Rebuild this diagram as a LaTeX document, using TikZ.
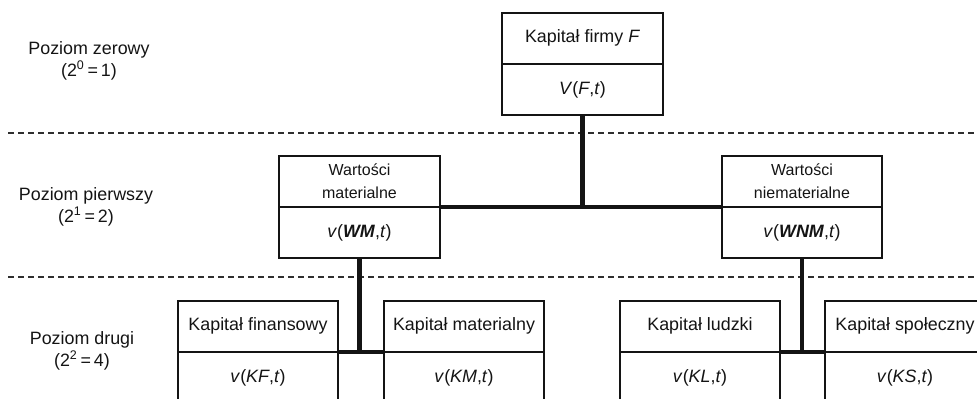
\documentclass[tikz,border=0pt]{standalone}
\usepackage{fontspec}
\setmainfont{Liberation Sans}
\usetikzlibrary{positioning}
\definecolor{InkBlack}{HTML}{141414}
\definecolor{DashGray}{HTML}{2E2E2E}

\begin{document}
\begin{tikzpicture}[x=0.75pt,y=-0.75pt,
  every node/.style={font=\fontsize{13.4}{17}\selectfont,text=InkBlack},
  part/.style={draw=InkBlack,line width=1.6pt,outer sep=0pt,inner sep=0pt,minimum width=120.5pt,minimum height=38.5pt,align=center},
  small/.style={font=\fontsize{12}{17}\selectfont},
  level/.style={align=center,font=\fontsize{13.4}{16.5}\selectfont},
  link/.style={draw=InkBlack,line width=3.6pt},
  sep/.style={draw=DashGray,line width=0.9pt,dash pattern=on 4.5pt off 3pt}]
\useasboundingbox (0,0) rectangle (977,399);
\clip (0,0) rectangle (977,399);
% level separators
\draw[sep] (8,133) -- (977,133);
\draw[sep] (8,277) -- (977,277);
% level names
\node[level] (lvl0) at (89,61) {Poziom zerowy\\(2\textsuperscript{0}\,=\,1)};
\node[level] (lvl1) at (86,207) {Poziom pierwszy\\(2\textsuperscript{1}\,=\,2)};
\node[level] (lvl2) at (82,351) {Poziom drugi\\(2\textsuperscript{2}\,=\,4)};
% level 0
\node[part,anchor=south] (f) at (582.5,64) {Kapitał firmy \textit{F}};
\node[part,below=0pt of f] (fv) {\textit{V}(\textit{F},\textit{t})};
% level 1
\node[part,small,anchor=south] (wm) at (359.5,207) {Wartości\\materialne};
\node[part,below=0pt of wm] (wmv) {\textit{v}(\textbf{\textit{WM}},\textit{t})};
\node[part,small,anchor=south] (wnm) at (802,207) {Wartości\\niematerialne};
\node[part,below=0pt of wnm] (wnmv) {\textit{v}(\textbf{\textit{WNM}},\textit{t})};
% level 2
\node[part,anchor=south] (kf) at (258,352) {Kapitał finansowy};
\node[part,below=0pt of kf] (kfv) {\textit{v}(\textit{KF},\textit{t})};
\node[part,anchor=south] (km) at (464,352) {Kapitał materialny};
\node[part,below=0pt of km] (kmv) {\textit{v}(\textit{KM},\textit{t})};
\node[part,anchor=south] (kl) at (700,352) {Kapitał ludzki};
\node[part,below=0pt of kl] (klv) {\textit{v}(\textit{KL},\textit{t})};
\node[part,anchor=south] (ks) at (905,352) {Kapitał społeczny};
\node[part,below=0pt of ks] (ksv) {\textit{v}(\textit{KS},\textit{t})};
% links
\draw[link] (fv.south) -- (fv.south |- wm.south east);
\draw[link] (wm.south east) -- (wnm.south west);
\draw[link] (wmv.south) -- (wmv.south |- kf.south east);
\draw[link] (kf.south east) -- (km.south west);
\draw[link] (wnmv.south) -- (wnmv.south |- kl.south east);
\draw[link] (kl.south east) -- (ks.south west);
\end{tikzpicture}
\end{document}
